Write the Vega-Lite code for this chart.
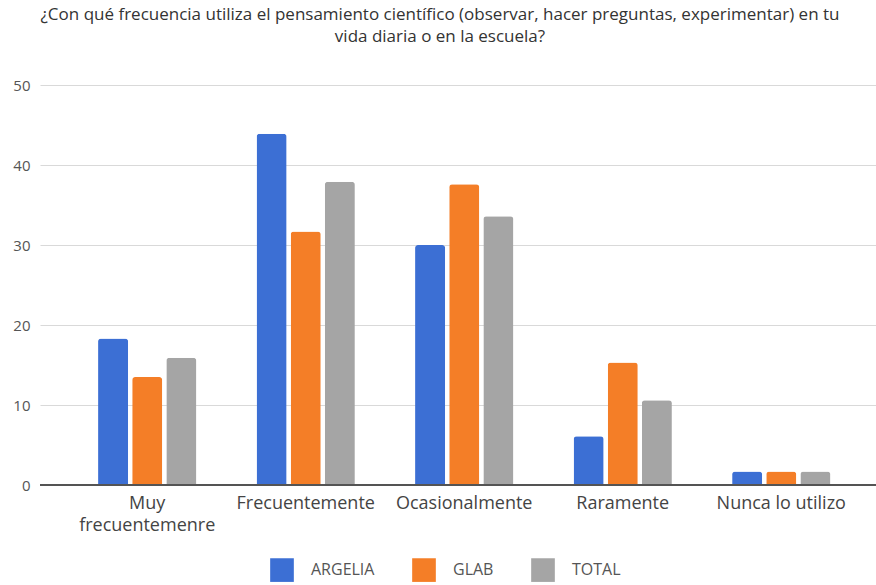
{
  "$schema": "https://vega.github.io/schema/vega-lite/v6.json",
  "width": 836,
  "height": 400,
  "autosize": {"type": "none"},
  "padding": {"left": 40, "top": 85, "right": 0, "bottom": 100},
  "background": "white",
  "title": {
    "text": ["¿Con qué frecuencia utiliza el pensamiento científico (observar, hacer preguntas, experimentar) en tu", "vida diaria o en la escuela?"],
    "anchor": "middle",
    "frame": "group",
    "dx": -18,
    "offset": 0,
    "dy": -32,
    "font": "Open Sans",
    "fontSize": 17,
    "fontWeight": "normal",
    "color": "#333333",
    "lineHeight": 22,
    "baseline": "top"
  },
  "config": {
    "view": {"stroke": null},
    "font": "Open Sans"
  },
  "data": {
    "values": [
      {"categoria": "Muy frecuentemenre", "serie": "ARGELIA", "valor": 18.3},
      {"categoria": "Muy frecuentemenre", "serie": "GLAB", "valor": 13.5},
      {"categoria": "Muy frecuentemenre", "serie": "TOTAL", "valor": 15.9},
      {"categoria": "Frecuentemente", "serie": "ARGELIA", "valor": 43.9},
      {"categoria": "Frecuentemente", "serie": "GLAB", "valor": 31.7},
      {"categoria": "Frecuentemente", "serie": "TOTAL", "valor": 37.9},
      {"categoria": "Ocasionalmente", "serie": "ARGELIA", "valor": 30.0},
      {"categoria": "Ocasionalmente", "serie": "GLAB", "valor": 37.6},
      {"categoria": "Ocasionalmente", "serie": "TOTAL", "valor": 33.6},
      {"categoria": "Raramente", "serie": "ARGELIA", "valor": 6.1},
      {"categoria": "Raramente", "serie": "GLAB", "valor": 15.3},
      {"categoria": "Raramente", "serie": "TOTAL", "valor": 10.6},
      {"categoria": "Nunca lo utilizo", "serie": "ARGELIA", "valor": 1.7},
      {"categoria": "Nunca lo utilizo", "serie": "GLAB", "valor": 1.7},
      {"categoria": "Nunca lo utilizo", "serie": "TOTAL", "valor": 1.7}
    ]
  },
  "layer": [
    {
      "mark": {"type": "bar", "cornerRadiusTopLeft": 3, "cornerRadiusTopRight": 3},
      "encoding": {
        "x": {
          "field": "categoria",
          "type": "nominal",
          "sort": ["Muy frecuentemenre", "Frecuentemente", "Ocasionalmente", "Raramente", "Nunca lo utilizo"],
          "scale": {"paddingInner": 0.38, "paddingOuter": 0.327, "align": 0.56},
          "axis": {
            "title": null,
            "ticks": false,
            "domain": false,
            "labelAngle": 0,
            "labelPadding": 9,
            "labelFontSize": 18,
            "labelColor": "#444444",
            "labelLineHeight": 22,
            "labelExpr": "datum.label == 'Muy frecuentemenre' ? ['Muy', 'frecuentemenre'] : datum.label"
          }
        },
        "xOffset": {
          "field": "serie",
          "type": "nominal",
          "scale": {"paddingInner": 0.12, "paddingOuter": 0}
        },
        "y": {
          "field": "valor",
          "type": "quantitative",
          "scale": {"domain": [0, 50]},
          "axis": {
            "title": null,
            "values": [0, 10, 20, 30, 40, 50],
            "domain": false,
            "ticks": false,
            "labelPadding": 10,
            "labelFontSize": 15,
            "labelColor": "#555555",
            "gridColor": "#d9d9d9",
            "gridWidth": 1
          }
        },
        "color": {
          "field": "serie",
          "type": "nominal",
          "scale": {"domain": ["ARGELIA", "GLAB", "TOTAL"], "range": ["#3c6fd4", "#f47e27", "#a5a5a5"]},
          "legend": {
            "title": null,
            "orient": "none",
            "direction": "horizontal",
            "legendX": 230,
            "legendY": 473,
            "symbolType": "square",
            "symbolSize": 560,
            "symbolStrokeWidth": 0,
            "symbolOpacity": 1,
            "labelFontSize": 16,
            "labelColor": "#555555",
            "labelOffset": 17,
            "columnPadding": 37
          }
        }
      }
    },
    {
      "mark": {"type": "rule", "color": "#555555", "strokeWidth": 1.5},
      "encoding": {"y": {"datum": 0, "type": "quantitative"}}
    }
  ]
}
